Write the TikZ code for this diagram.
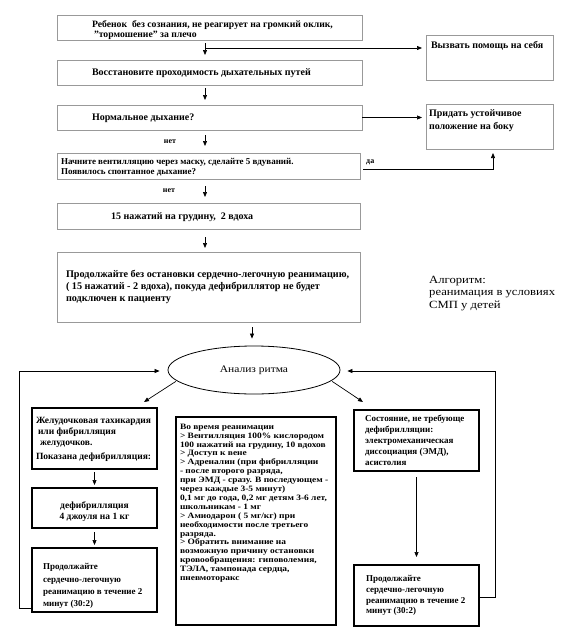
\documentclass[tikz,border=0pt]{standalone}
\usepackage{fontspec}
\setmainfont{Liberation Serif}
\newfontfamily\wideserif{Liberation Serif}[FakeStretch=1.15]
\usetikzlibrary{arrows.meta,calc,shapes.geometric}
% #1 width, #2 height, #3 left indent, #4 top gap, #5 text
\newcommand{\tbox}[5]{\parbox[c][#2pt][t]{#1pt}{\raggedright\leftskip=#3pt\relax\parindent=0pt\vspace*{#4pt}#5\par}}
\begin{document}
\begin{tikzpicture}[x=1pt,y=-1pt,
  gbox/.style={draw=black!40, line width=0.7pt, inner sep=0pt, outer sep=0pt, anchor=north west, font=\bfseries\fontsize{10}{10}\selectfont},
  kbox/.style={draw=black, line width=1.3pt, inner sep=0pt, outer sep=0pt, anchor=north west, font=\bfseries\fontsize{9}{11}\selectfont},
  arr/.style={-{Triangle[length=5pt,width=4pt]}, line width=0.7pt},
  lbl/.style={font=\bfseries\fontsize{8}{9}\selectfont, inner sep=0pt}
]
\useasboundingbox (0,0) rectangle (585,640);

% top column
\node[gbox, font=\bfseries\fontsize{9.7}{10}\selectfont] (b1) at (57,15)
  {\tbox{305}{25}{35}{5.3}{Ребенок\ \ без сознания, не реагирует на громкий оклик,\\\hspace*{2pt}"тормошение" за плечо}};
\node[gbox] (b2) at (57,60)
  {\tbox{305}{25}{35}{9}{Восстановите проходимость дыхательных путей}};
\node[gbox] (b3) at (57,105)
  {\tbox{305}{25}{35}{8.7}{Нормальное дыхание?}};
\node[gbox] (bH) at (426,35)
  {\tbox{127}{45}{5}{6.2}{Вызвать помощь на себя}};
\node[gbox, font=\bfseries\fontsize{10}{13}\selectfont] (bP) at (426,104)
  {\tbox{127}{45}{3}{5.2}{Придать устойчивое\\положение на боку}};
\node[gbox, font=\bfseries\fontsize{9}{10}\selectfont] (b4) at (57,153)
  {\tbox{303}{26}{4}{5.6}{Начните вентилляцию через маску, сделайте 5 вдуваний.\\Появилось спонтанное дыхание?}};
\node[gbox] (b5) at (57,203)
  {\tbox{303}{26}{54}{9.2}{15 нажатий на грудину,\ \ 2 вдоха}};
\node[gbox, font=\bfseries\fontsize{10.2}{12}\selectfont] (b6) at (57,252)
  {\tbox{303}{70}{9}{18}{Продолжайте без остановки сердечно-легочную реанимацию,\\( 15 нажатий - 2 вдоха), покуда дефибриллятор не будет\\подключен к пациенту}};

\node[lbl] (net1) at (170,142) {нет};
\node[lbl] (net2) at (169,191) {нет};
\node[lbl, anchor=west] (da) at (366,162) {да};

\node[anchor=north west, align=left, inner sep=0pt, font=\wideserif\fontsize{11}{12.3}\selectfont] (alg) at (429,276)
  {Алгоритм:\\реанимация в условиях\\СМП у детей};

% rhythm analysis
\node[draw, ellipse, line width=0.8pt, minimum width=172, minimum height=48, inner sep=0pt, font=\wideserif\fontsize{10}{12}\selectfont] (ell) at (254,370) {Анализ ритма};

% left column
\node[kbox, font=\bfseries\fontsize{9.5}{11}\selectfont] (b7) at (32,408)
  {\tbox{125}{61}{4}{9.4}{Желудочковая тахикардия\\\hspace*{2pt}или фибрилляция\\\hspace*{4pt}желудочков.\\[3pt]Показана дефибрилляция:}};
\node[kbox, font=\bfseries\fontsize{9.5}{11}\selectfont] (b8) at (32,488)
  {\tbox{125}{40}{0}{13.4}{\centering дефибрилляция\\4 джоуля на 1 кг}};
\node[kbox, font=\bfseries\fontsize{9}{12.3}\selectfont] (b9) at (32,548)
  {\tbox{125}{64}{11}{15.6}{Продолжайте\\сердечно-легочную\\реанимацию в течение 2\\минут (30:2)}};

% middle column
\node[kbox, font=\wideserif\bfseries\fontsize{8.2}{8.9}\selectfont] (b10) at (176,417)
  {\tbox{160}{208}{4}{6.9}{Во время реанимации\\
  > Вентилляция 100\% кислородом\\
  100 нажатий на грудину, 10 вдохов\\
  > Доступ к вене\\
  > Адреналин (при фибрилляции\\
  - после второго разряда,\\
  при ЭМД - сразу. В последующем -\\
  через каждые 3-5 минут)\\
  0,1 мг до года, 0,2 мг детям 3-6 лет,\\
  школьникам - 1 мг\\
  > Амиодарон ( 5 мг/кг) при\\
  необходимости после третьего\\
  разряда.\\
  > Обратить внимание на\\
  возможную причину остановки\\
  кровообращения: гиповолемия,\\
  ТЭЛА, тампонада сердца,\\
  пневмоторакс}};

% right column
\node[kbox, font=\bfseries\fontsize{9}{11}\selectfont] (b11) at (354,410)
  {\tbox{125}{61}{11}{4.6}{Состояние, не требующе\\дефибрилляции:\\электромеханическая\\диссоциация (ЭМД),\\асистолия}};
\node[kbox, font=\bfseries\fontsize{9}{10.7}\selectfont] (b12) at (354,565)
  {\tbox{125}{61}{12}{10.6}{Продолжайте\\сердечно-легочную\\реанимацию в течение 2\\минут (30:2)}};

% helper coordinates
\coordinate (ax) at (205,0);
\coordinate (ex) at (252,0);
\coordinate (c1) at (205,48);
\coordinate (lc) at (19,371);
\coordinate (rc) at (495,371);
\coordinate (dl) at (144,402);
\coordinate (dr) at (363,402);

% connectors, top
\draw[arr, shorten <=3pt, shorten >=5pt] (b1.south -| ax) -- (b2.north -| ax);
\draw[arr, shorten >=4pt] (c1) -- (c1 -| bH.west);
\draw[arr, shorten <=3pt, shorten >=5pt] (b2.south -| ax) -- (b3.north -| ax);
\draw[arr, shorten >=4pt] (b3.east) -- (b3.east -| bP.west);
\draw[arr, shorten <=5pt, shorten >=7pt] (b3.south -| ax) -- (b4.north -| ax);
\draw[arr, shorten >=4pt] ($(b4.east)+(3,3)$) -| ($(bP.south)+(3.5,0)$);
\draw[arr, shorten <=7pt, shorten >=6pt] (b4.south -| ax) -- (b5.north -| ax);
\draw[arr, shorten <=8pt, shorten >=4pt] (b5.south -| ax) -- (b6.north -| ax);
\draw[arr, shorten <=5pt, shorten >=7pt] (b6.south -| ex) -- (ell.north -| ex);

% connectors, bottom
\draw[arr, shorten <=1pt] (ell.188) -- (dl);
\draw[arr, shorten <=1pt] (ell.352) -- (dr);
\draw[arr, shorten <=3pt, shorten >=3pt] (b7.south) -- (b8.north);
\draw[arr, shorten <=4pt, shorten >=3pt] (b8.south) -- (b9.north);
\draw[arr, shorten <=6pt, shorten >=8pt] (b11.south) -- (b12.north);
\draw[arr, shorten >=8pt] ($(b9.south west)+(0,-4)$) -| (lc) -- (lc -| ell.west);
\draw[arr, shorten >=7pt] ($(b12.east)+(0,1.5)$) -| (rc) -- (rc -| ell.east);
\end{tikzpicture}
\end{document}
